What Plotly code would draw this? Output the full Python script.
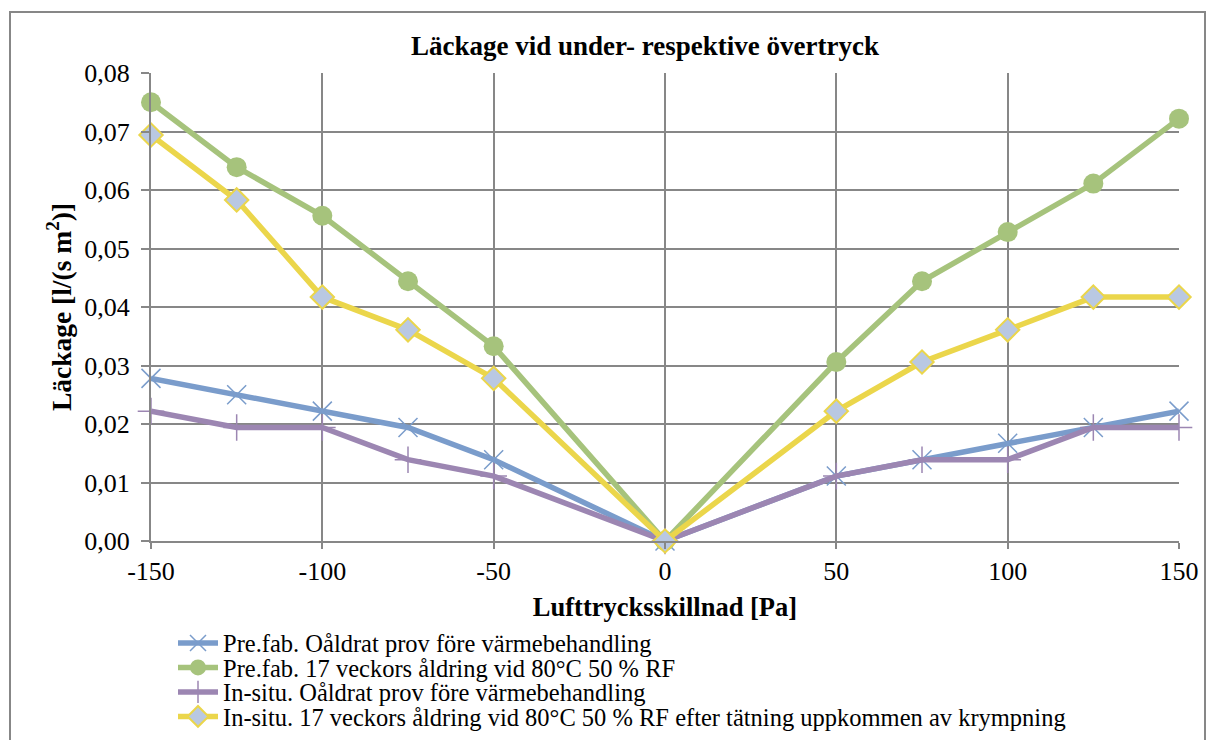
import plotly.graph_objects as go

pressure = [-150, -125, -100, -75, -50, 0, 50, 75, 100, 125, 150]
prefab_unaged = [0.0278, 0.0250, 0.0222, 0.0194, 0.0139, 0.0, 0.0111, 0.0139, 0.0167, 0.0194, 0.0222]
prefab_aged = [0.0750, 0.0639, 0.0556, 0.0444, 0.0333, 0.0, 0.0306, 0.0444, 0.0528, 0.0611, 0.0722]
insitu_unaged = [0.0222, 0.0194, 0.0194, 0.0139, 0.0111, 0.0, 0.0111, 0.0139, 0.0139, 0.0194, 0.0194]
insitu_aged = [0.0694, 0.0583, 0.0417, 0.0361, 0.0278, 0.0, 0.0222, 0.0306, 0.0361, 0.0417, 0.0417]

names = [
    "Pre.fab. Oåldrat prov före värmebehandling",
    "Pre.fab. 17 veckors åldring vid 80°C 50 % RF",
    "In-situ. Oåldrat prov före värmebehandling",
    "In-situ. 17 veckors åldring vid 80°C 50 % RF efter tätning uppkommen av krympning",
]
xticks = [-150, -100, -50, 0, 50, 100, 150]
xticklabels = ["-150", "-100", "-50", "0", "50", "100", "150"]
yticks = [0.0, 0.01, 0.02, 0.03, 0.04, 0.05, 0.06, 0.07, 0.08]

W, H = 1208, 740
L, R, T, B = 151, 1179, 73, 541
FONT = "Liberation Serif, Times New Roman, serif"
GRID = "#878787"

fig = go.Figure()
fig.add_trace(go.Scatter(x=pressure, y=prefab_unaged, name=names[0], mode="lines+markers", legend="legend",
                         line=dict(color="#7a9ccb", width=5.5),
                         marker=dict(symbol="x-thin-open", size=19, line=dict(color="#7a9ccb", width=1.5)),
                         cliponaxis=False))
fig.add_trace(go.Scatter(x=pressure, y=prefab_aged, name=names[1], mode="lines+markers", legend="legend2",
                         line=dict(color="#a6c37c", width=5.5),
                         marker=dict(symbol="circle", size=20, color="#a6c37c"),
                         cliponaxis=False))
fig.add_trace(go.Scatter(x=pressure, y=insitu_unaged, name=names[2], mode="lines+markers", legend="legend3",
                         line=dict(color="#9c86b2", width=5.5),
                         marker=dict(symbol="cross-thin-open", size=19, line=dict(color="#9c86b2", width=1.5)),
                         cliponaxis=False))
fig.add_trace(go.Scatter(x=pressure, y=insitu_aged, name=names[3], mode="lines+markers", legend="legend4",
                         line=dict(color="#ebd64b", width=5.5),
                         marker=dict(symbol="diamond", size=18, color="#b9c8e2", line=dict(color="#ebd64b", width=2)),
                         cliponaxis=False))

pw, ph = R - L, B - T
def px(x):
    return (x - L) / pw
def py(y):
    return (B - y) / ph

legend_rows = [643, 667.5, 692, 716.5]
def leg(row):
    return dict(x=px(173), y=py(row), xanchor="left", yanchor="middle", orientation="v",
                font=dict(size=24.5, family=FONT), itemwidth=40, bgcolor="rgba(0,0,0,0)",
                borderwidth=0)

fig.update_layout(
    width=W, height=H,
    margin=dict(l=L, r=W - R, t=T, b=H - B, autoexpand=False),
    paper_bgcolor="white", plot_bgcolor="white",
    separators=", ",
    font=dict(family=FONT, color="black", size=26),
    title=dict(text="<b>Läckage vid under- respektive övertryck</b>", x=645 / W, xanchor="center",
               xref="container", yref="container",
               y=1 - 46 / H, yanchor="middle", font=dict(size=27)),
    xaxis=dict(range=[-150, 150], tickvals=xticks, ticktext=xticklabels, showgrid=True,
               gridcolor=GRID, gridwidth=2,
               showline=True, linecolor=GRID, linewidth=2, mirror=False, zeroline=False,
               ticks="outside", ticklen=6, tickwidth=2, tickcolor=GRID,
               tickfont=dict(size=26),
               title=dict(text="<b>Lufttrycksskillnad [Pa]</b>", font=dict(size=26.5), standoff=12)),
    yaxis=dict(range=[0, 0.08], tickvals=yticks, tickformat=".2f", showgrid=True, gridcolor=GRID,
               gridwidth=2, showline=True, linecolor=GRID, linewidth=2, zeroline=False,
               ticks="outside", ticklen=8, tickwidth=2, tickcolor=GRID,
               ticklabelstandoff=6,
               tickfont=dict(size=26),
               title=dict(text="<b>Läckage [l/(s m<sup>2</sup>)]</b>", font=dict(size=27.5), standoff=5)),
    legend=leg(legend_rows[0]),
    legend2=leg(legend_rows[1]),
    legend3=leg(legend_rows[2]),
    legend4=leg(legend_rows[3]),
    showlegend=True,
)
fig.add_shape(type="rect", xref="paper", yref="paper",
              x0=px(10), x1=px(1205), y0=py(12), y1=py(760),
              line=dict(color=GRID, width=2), fillcolor="rgba(0,0,0,0)", layer="below")

fig.write_html("out.html", config={"displayModeBar": False})

with open("out.html", "r", encoding="utf-8") as f:
    html = f.read()
html = html.replace("<head>", "<head><style>html,body{margin:0;padding:0;overflow:hidden;}</style>", 1)
with open("out.html", "w", encoding="utf-8") as f:
    f.write(html)
